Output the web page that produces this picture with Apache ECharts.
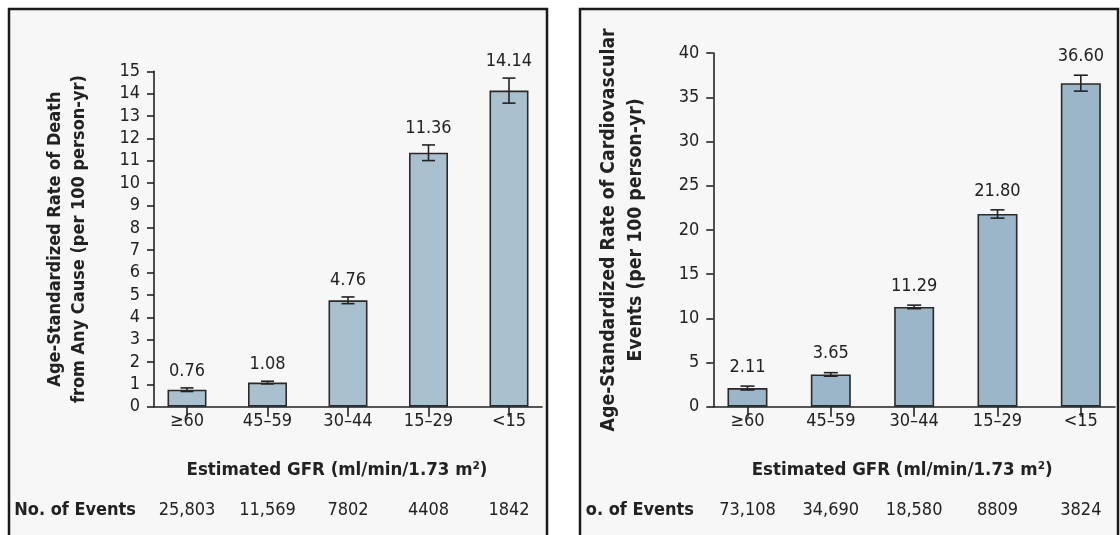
<!DOCTYPE html>
<html>
<head>
<meta charset="utf-8">
<script src="https://cdn.jsdelivr.net/npm/echarts@6/dist/echarts.min.js"></script>
<style>
html,body{margin:0;padding:0;background:#ffffff;}
#chart{width:1120px;height:535px;}
</style>
</head>
<body>
<div id="chart"></div>
<script>
// ---- data ----
const categories = ['≥60', '45–59', '30–44', '15–29', '<15'];
const deathRate = [0.76, 1.08, 4.76, 11.36, 14.14];
const deathErr = [0.08, 0.06, 0.15, 0.35, 0.56];
const deathEvents = ['25,803', '11,569', '7802', '4408', '1842'];
const cvRate = [2.11, 3.65, 11.29, 21.80, 36.60];
const cvErr = [0.22, 0.2, 0.2, 0.47, 0.9];
const cvEvents = ['73,108', '34,690', '18,580', '8809', '3824'];
const deathYMax = 15, deathYStep = 1;
const cvYMax = 40, cvYStep = 5;
const xTitle = 'Estimated GFR (ml/min/1.73 m²)';
const deathYTitle = 'Age-Standardized Rate of Death\nfrom Any Cause (per 100 person-yr)';
const cvYTitle = 'Age-Standardized Rate of Cardiovascular\nEvents (per 100 person-yr)';
const leftEventsLabel = 'No. of Events';
const rightEventsLabel = 'o. of Events';

// ---- styling ----
const FONT = '"DejaVu Sans Condensed", "DejaVu Sans", "Open Sans", sans-serif';
const INK = '#222222';
const idx = categories.map((c, i) => i);

const chart = echarts.init(document.getElementById('chart'), null, {renderer: 'canvas'});

function errRender(cap, gap) {
  return function (params, api) {
    const x = api.value(0), v = api.value(1), e = api.value(2);
    const hi = api.coord([x, v + e]);
    const lo = api.coord([x, v - e]);
    const st = {stroke: INK, lineWidth: 1.6};
    return {
      type: 'group',
      children: [
        {type: 'line', shape: {x1: hi[0], y1: hi[1], x2: lo[0], y2: lo[1]}, style: st},
        {type: 'line', shape: {x1: hi[0] - cap, y1: hi[1], x2: hi[0] + cap, y2: hi[1]}, style: st},
        {type: 'line', shape: {x1: lo[0] - cap, y1: lo[1], x2: lo[0] + cap, y2: lo[1]}, style: st},
        {type: 'text', x: hi[0], y: hi[1] - gap,
         style: {text: v.toFixed(2), align: 'center', verticalAlign: 'bottom',
                 fill: INK, fontSize: 18, fontFamily: FONT}}
      ]
    };
  };
}

function mainX(gridIndex, name, shift) {
  return {
    type: 'value', gridIndex: gridIndex, min: -0.41, max: 4.41,
    position: 'bottom',
    axisLine: {show: true, onZero: false, lineStyle: {color: INK, width: 1.6}},
    axisTick: {show: true, inside: false, length: 10, customValues: idx, lineStyle: {color: INK, width: 1.6}},
    axisLabel: {show: true, customValues: idx, margin: 6, color: INK, fontSize: 18, fontFamily: FONT,
                formatter: v => categories[Math.round(v)]},
    splitLine: {show: false},
    name: name, nameLocation: 'middle', nameGap: 54,
    nameTextStyle: {color: INK, fontSize: 18.5, fontWeight: 600, fontFamily: FONT, padding: [0, shift, 0, 0]}
  };
}
function eventsX(gridIndex, events) {
  return {
    type: 'value', gridIndex: gridIndex, min: -0.41, max: 4.41,
    position: 'bottom', offset: 104,
    axisLine: {show: false, onZero: false}, axisTick: {show: false}, splitLine: {show: false},
    axisLabel: {show: true, customValues: idx, margin: 0, verticalAlign: 'middle', color: INK,
                fontSize: 18, fontFamily: FONT, formatter: v => events[Math.round(v)]}
  };
}
function mainY(gridIndex, max, step, name, gap, size, lh) {
  return {
    type: 'value', gridIndex: gridIndex, min: 0, max: max, interval: step,
    position: 'left',
    axisLine: {show: true, onZero: false, lineStyle: {color: INK, width: 1.6}},
    axisTick: {show: true, inside: false, length: 7, lineStyle: {color: INK, width: 1.6}},
    axisLabel: {margin: 14, color: INK, fontSize: 18, fontFamily: FONT},
    splitLine: {show: false},
    name: name, nameLocation: 'middle', nameRotate: 90, nameGap: gap,
    nameTextStyle: {color: INK, fontSize: size, fontWeight: 600, fontFamily: FONT, lineHeight: lh, align: 'center'}
  };
}

const option = {
  animation: false,
  backgroundColor: '#ffffff',
  graphic: {
    elements: [
      {type: 'rect', z: -10, silent: true, shape: {x: 9, y: 9, width: 538, height: 545},
       style: {fill: '#f7f7f7', stroke: '#1a1a1a', lineWidth: 2.5}},
      {type: 'rect', z: -10, silent: true, shape: {x: 580, y: 9, width: 538, height: 545},
       style: {fill: '#f7f7f7', stroke: '#1a1a1a', lineWidth: 2.5}},
      {type: 'text', x: 136, y: 510, silent: true,
       style: {text: leftEventsLabel, align: 'right', verticalAlign: 'middle', fill: INK,
               fontSize: 18, fontWeight: 600, fontFamily: FONT}},
      {type: 'text', x: 694, y: 510, silent: true,
       style: {text: rightEventsLabel, align: 'right', verticalAlign: 'middle', fill: INK,
               fontSize: 18, fontWeight: 600, fontFamily: FONT}}
    ]
  },
  grid: [
    {left: 154, top: 71.4, width: 388, height: 335.3, containLabel: false},
    {left: 713.3, top: 53.1, width: 401.7, height: 353.6, containLabel: false}
  ],
  xAxis: [
    mainX(0, xTitle, 22),
    eventsX(0, deathEvents),
    mainX(1, xTitle, 24),
    eventsX(1, cvEvents)
  ],
  yAxis: [
    mainY(0, deathYMax, deathYStep, deathYTitle, 63, 18, 24),
    mainY(1, cvYMax, cvYStep, cvYTitle, 64, 19.3, 27)
  ],
  series: [
    {type: 'bar', xAxisIndex: 0, yAxisIndex: 0, barWidth: 39,
     itemStyle: {color: '#a9c1cf', borderColor: '#2a2a2a', borderWidth: 1.6},
     data: deathRate.map((v, i) => [i, v])},
    {type: 'custom', xAxisIndex: 0, yAxisIndex: 0, clip: false, z: 5,
     renderItem: errRender(6.5, 8),
     encode: {x: 0, y: 1},
     data: deathRate.map((v, i) => [i, v, deathErr[i]])},
    {type: 'bar', xAxisIndex: 2, yAxisIndex: 1, barWidth: 40,
     itemStyle: {color: '#9bb6c9', borderColor: '#2a2a2a', borderWidth: 1.6},
     data: cvRate.map((v, i) => [i, v])},
    {type: 'custom', xAxisIndex: 2, yAxisIndex: 1, clip: false, z: 5,
     renderItem: errRender(7, 10),
     encode: {x: 0, y: 1},
     data: cvRate.map((v, i) => [i, v, cvErr[i]])}
  ]
};
chart.setOption(option);
</script>
</body>
</html>
